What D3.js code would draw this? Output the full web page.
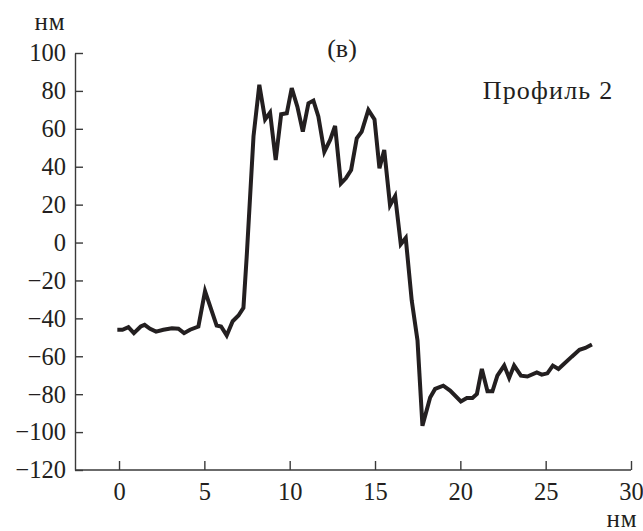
<!DOCTYPE html>
<html>
<head>
<meta charset="utf-8">
<script src="https://cdn.jsdelivr.net/npm/d3@7"></script>
<style>
  body { margin: 0; background: #fff; }
  svg text { font-family: "Liberation Serif", "Times New Roman", Times, serif; fill: #231f20; }
</style>
</head>
<body>
<div id="chart"></div>
<script>
// profile data
const xs = [-0.1, 0.2, 0.55, 0.87, 1.27, 1.5, 1.82, 2.17, 2.6, 3.1, 3.48, 3.81, 4.16, 4.65, 5.04, 5.72, 5.98, 6.31, 6.66, 7.0, 7.29, 7.48, 7.88, 8.22, 8.56, 8.85, 9.18, 9.5, 9.83, 10.12, 10.45, 10.77, 11.1, 11.39, 11.68, 12.03, 12.37, 12.66, 13.0, 13.29, 13.6, 13.93, 14.22, 14.61, 14.97, 15.26, 15.54, 15.88, 16.18, 16.51, 16.8, 17.15, 17.49, 17.78, 18.23, 18.52, 19.0, 19.4, 20.03, 20.38, 20.71, 20.97, 21.26, 21.59, 21.88, 22.17, 22.57, 22.86, 23.15, 23.55, 23.93, 24.48, 24.77, 25.1, 25.42, 25.75, 26.08, 26.53, 26.98, 27.32, 27.71];
const ys = [-46, -46, -44.6, -47.8, -44.3, -43.4, -45.5, -47, -46, -45.2, -45.5, -47.8, -46, -44.3, -25.6, -43.8, -44.3, -49, -41.5, -38.5, -34.4, -7.6, 56, 83.2, 65, 68.6, 43.5, 67.7, 68.2, 81.5, 71.7, 58.5, 73.5, 74.9, 66.5, 47.9, 54.1, 61.5, 31.2, 33.9, 38.3, 55, 58.5, 70, 65, 39.2, 48.8, 19.7, 24.5, -0.9, 2.4, -30.5, -51.7, -96.7, -81.7, -77.2, -75.5, -78.1, -83.8, -82, -82, -79.9, -66.7, -78.5, -78.5, -70.2, -64.9, -71.4, -64.9, -70.2, -70.7, -68.5, -69.7, -69, -64.9, -66.7, -64, -60.2, -56.6, -55.6, -53.8];
const xTicks = [0, 5, 10, 15, 20, 25, 30];
const yTicks = [-120, -100, -80, -60, -40, -20, 0, 20, 40, 60, 80, 100];

const W = 643, H = 531;
const svg = d3.select("#chart").append("svg")
    .attr("width", W)
    .attr("height", H);

const x = d3.scaleLinear().domain([-2.58, 30]).range([75, 631]);
const y = d3.scaleLinear().domain([-120, 100]).range([470, 53]);

const fmt = d => (d < 0 ? "\u2212" + Math.abs(d) : "" + d);

const gx = svg.append("g")
    .attr("transform", `translate(0,${y(-120)})`)
    .call(d3.axisBottom(x).tickValues(xTicks).tickSizeInner(-9).tickSizeOuter(0).tickPadding(13).tickFormat(fmt));

const gy = svg.append("g")
    .attr("transform", `translate(${x.range()[0]},0)`)
    .call(d3.axisLeft(y).tickValues(yTicks).tickSizeInner(-8).tickSizeOuter(0).tickPadding(9).tickFormat(fmt));

[gx, gy].forEach(g => {
    g.attr("font-family", null).attr("font-size", null);
    g.selectAll("path, line").attr("stroke", "#3a3a3a").attr("stroke-width", 1.4);
    g.selectAll("text").style("font-size", "24.5px");
});

// x axis line extends from the y axis
gx.select(".domain").attr("d", `M${x.range()[0]},0H${x.range()[1]}`);

const pts = xs.map((v, i) => [v, ys[i]]);
svg.append("path")
    .datum(pts)
    .attr("fill", "none")
    .attr("stroke", "#231f20")
    .attr("stroke-width", 4)
    .attr("stroke-linejoin", "miter")
    .attr("d", d3.line().x(d => x(d[0])).y(d => y(d[1])));

svg.append("text").attr("x", 50).attr("y", 30).attr("text-anchor", "middle")
    .style("font-size", "25px").style("letter-spacing", "1px").text("нм");
svg.append("text").attr("x", 622).attr("y", 527).attr("text-anchor", "middle")
    .style("font-size", "25px").style("letter-spacing", "1px").text("нм");
svg.append("text").attr("x", 342).attr("y", 57).attr("text-anchor", "middle")
    .style("font-size", "26px").text("(в)");
svg.append("text").attr("x", 548).attr("y", 99).attr("text-anchor", "middle")
    .style("font-size", "26px").style("letter-spacing", "1.2px").text("Профиль 2");
</script>
</body>
</html>
